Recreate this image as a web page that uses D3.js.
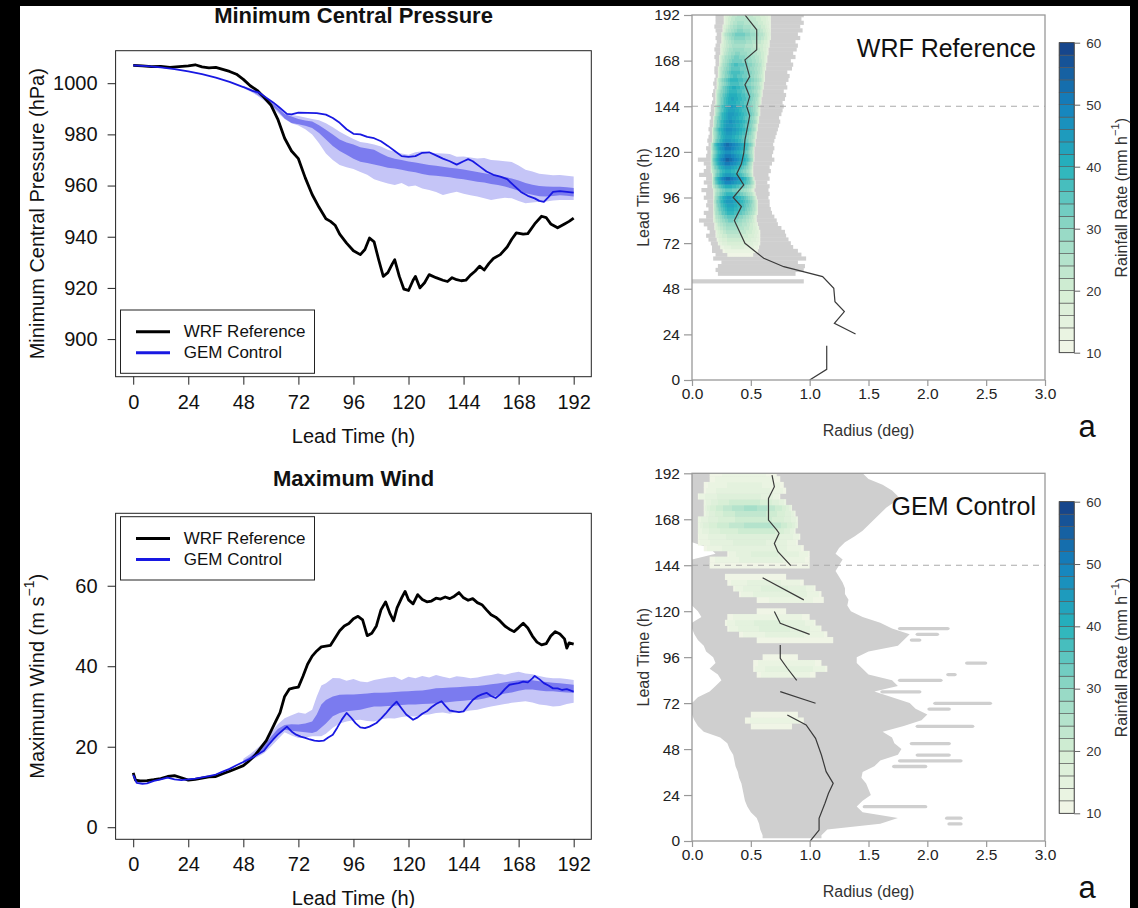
<!DOCTYPE html>
<html>
<head>
<meta charset="utf-8">
<title>WRF vs GEM intensity and rainfall</title>
<style type="text/css">
	body{ margin:0; background:#000; }
	svg{ display:block; font-family:"Liberation Sans", Arial, Helvetica, sans-serif; }
</style>
</head>
<body>
<svg id="fig" width="1138" height="908"></svg>
<script src="https://cdn.jsdelivr.net/npm/d3@7"></script>
<script>
// ---------- left panels: time series [lead h, value] ----------
var leadTicks = [0,24,48,72,96,120,144,168,192];
var pressureTicks = [900,920,940,960,980,1000];
var windTicks = [0,20,40,60];

var wrfPressure = [[0,1007],[4,1006.8],[8,1006.5],[12,1006.6],[16,1006.2],[20,1006.5],[24,1006.8],[27,1007.2],[30,1006.4],[33,1006],[36,1006.2],[39,1005.4],[42,1004.6],[45,1003.5],[48,1001.5],[51,999],[54,997.2],[57,994.5],[60,991.5],[63,986],[66,978.5],[69,973.5],[72,970.5],[75,963],[78,956.5],[81,951.5],[84,947],[86,946],[88,944.5],[90,941],[93,937.5],[96,934.5],[99,933],[101,935],[103,939.5],[105,938],[107,931],[109,924.5],[111,926],[113,929.5],[114,931],[116,924.5],[118,919.5],[120,919],[122,923],[123,924.5],[125,920],[127,922],[129,925.2],[132,924],[135,923],[137,922.5],[139,924],[141,923.2],[143,922.8],[145,923],[147,925],[149,926.5],[151,928.5],[153,927],[155,929.5],[157,931.5],[160,933],[163,936],[165,939],[167,941.5],[170,941],[172,941.2],[175,945],[178,948],[180,947.5],[182,945],[185,943.5],[188,945],[190,946],[192,947.3]];

var gemPressure = [[0,1007],[6,1006.7],[12,1006.2],[18,1005.5],[24,1004.6],[30,1003.5],[36,1002.2],[42,1000.5],[48,998.5],[52,997],[55,996.3],[58,994.3],[61,992.5],[64,990.3],[67,988],[69,987.8],[72,988.5],[76,988.4],[80,988.3],[84,987.7],[87,986.4],[90,984.5],[93,982],[96,980.2],[99,980],[102,979],[105,978.5],[108,977.3],[111,975.5],[114,973.5],[117,971.5],[120,971.2],[123,971.5],[126,972.8],[129,973],[132,971.8],[135,970.5],[138,969.5],[141,968.2],[144,969.5],[146,970.3],[148,969.5],[151,967.5],[154,965.5],[157,964.2],[160,963.5],[163,962.5],[166,960],[169,957.5],[172,956],[175,955],[177,954],[179,953.6],[181,955.5],[183,957.5],[186,957.8],[189,957.5],[192,957.2]];

// [lead, outer low, outer high, inner low, inner high]
var pressureSpread = [[48,998.0,999.0,998.3,998.8],[51,996.8,998.0,997.1,997.7],[54,995.2,996.8,995.6,996.4],[57,993.2,995.2,993.7,994.7],[60,991,993.2,991.6,992.7],[63,988.5,991,989.2,990.4],[66,986,988.6,986.2,988],[69,984.3,987.6,984.4,987],[72,983.5,987.2,984,986],[75,982,986.6,983.4,985.4],[78,980,986,982.5,985],[81,976.5,985.5,980.5,983.6],[84,972.5,984.3,978,981.8],[87,970,982.8,975.5,980],[90,968,981,973.5,978],[93,967.2,979.6,972,976.8],[96,966.5,978.2,970.5,976],[99,965.3,977,969.3,975],[102,964.2,976.6,968.8,974.5],[105,962.5,976,968.2,974],[108,961.6,975.3,967.6,972.5],[111,960.8,974,967,971.3],[114,960.2,973.2,966.7,970.5],[117,961,972.5,966.2,970],[120,959.6,972,965.6,969.4],[123,960,973,965.2,969],[126,958.8,973.4,964.5,968.5],[129,958.3,973,964,968],[132,957.5,972.6,963.8,967.7],[135,956.3,972.5,963.5,967.3],[138,957,972.3,963.2,967],[141,957.6,971.3,962.8,966.7],[144,956.8,971.4,962.5,966.3],[147,956.2,971,962,965.8],[150,955.7,970.6,961.5,965.3],[153,955,970.8,961.2,964.8],[156,954.4,970,960.6,964.3],[159,954.8,969.8,960.2,963.8],[162,955.2,969.5,959.6,963.3],[165,955,969.2,958.8,962.8],[168,954,967.8,958,962],[171,953.1,966.2,957,961],[174,953.4,965.5,956.4,960.3],[177,953.7,964.6,955.8,959.8],[180,953.8,964.3,955.7,959.6],[183,954.2,964,955.9,959.5],[186,954.4,964.1,956.2,959.5],[189,954.4,963.8,956,959.3],[192,954.4,963.5,955.7,959]];

var wrfWind = [[0,13.5],[1,11.7],[3,11.5],[6,11.6],[9,11.8],[12,12.1],[15,12.6],[18,12.8],[21,12.3],[24,11.7],[27,11.9],[30,12.2],[33,12.5],[36,12.6],[39,13.3],[42,13.9],[45,14.6],[48,15.3],[50,16.2],[53,17.8],[56,20],[58,21.5],[60,23.8],[62,26.2],[64,28.5],[66,32.5],[68,34.3],[70,34.6],[72,34.8],[74,37.5],[76,40.5],[78,42.5],[80,43.8],[82,44.8],[84,45],[86,45.2],[88,47],[90,48.8],[92,50],[94,50.6],[96,51.8],[98,52.4],[100,51.5],[102,47.6],[104,48.2],[106,50],[108,54],[110,56],[112,53],[113.5,51.3],[115,54.5],[117,57],[118.5,58.6],[120,56.5],[122,55.5],[124,57.8],[126,56.6],[128,56],[130,56.2],[132,56.9],[134,56.7],[136,57.2],[138,56.8],[140,57.4],[142,58.3],[144,57],[146,56.4],[148,56.8],[150,55.8],[152,55.3],[154,54],[156,52.8],[158,52.2],[160,51.2],[162,50],[164,49.2],[166,48.6],[168,49.6],[170,50.7],[172,49.5],[174,47.5],[176,46],[178,45.3],[180,45.6],[182,47.5],[184,48.6],[186,48],[188,46.8],[189,44.5],[190,45.8],[192,45.5]];

var gemWind = [[0,13],[1.5,11],[4,10.8],[6,10.9],[9,11.5],[12,11.9],[15,12.3],[18,11.9],[21,11.7],[24,11.9],[27,12.1],[30,12.4],[33,12.7],[36,13.1],[39,13.8],[42,14.5],[45,15.4],[48,16.2],[51,17],[54,18],[57,19],[59,20.5],[61,21.8],[63,23],[65,24],[67,25],[69,23.8],[71,23],[73,22.5],[75,22.2],[77,21.8],[79,21.5],[81,21.4],[83,21.5],[85,22.3],[87,23],[89,24.8],[91,26.8],[93,28.4],[95,27.2],[97,25.8],[99,24.8],[101,24.6],[103,25],[106,25.9],[108,27],[110,28.2],[112,29.6],[114.8,31.2],[117,29.5],[119,28],[122,26.7],[124,27.3],[126,28.2],[128,28.8],[130,29.8],[132,30.6],[134.4,31.3],[136,30.2],[138,29],[140,28.8],[142,28.6],[144,28.8],[146,30.2],[148,31.6],[150,32.5],[152,33],[154,33.4],[156,32.6],[158,32.1],[160,33],[162,34.3],[164,35.4],[166,35.6],[168,35.8],[170,36.2],[172,36],[174,37],[175,37.6],[177,36.8],[179,35.8],[181,35.2],[183,34.5],[185,34.5],[187,34.1],[189,34.3],[192,33.7]];

var windSpread = [[48,15.6,17.0,16.0,16.6],[51,16.4,18.2,16.9,17.6],[54,17.4,19.6,18.0,18.9],[57,18.4,21.2,19.2,20.3],[60,20.0,23.4,20.8,22.4],[63,21.8,25.6,22.8,24.4],[66,23.6,27.1,24.2,25.4],[69,22.8,27.8,24.0,25.6],[72,22.2,28.5,23.8,25.5],[75,22.3,28.2,23.6,25.8],[78,22.6,29.2,23.4,26.3],[80,22.6,32.5,23.8,28],[82,22.6,35.2,24.8,30.5],[84,23.2,35.8,25.8,31.6],[87,24.7,37.1,27.6,32.5],[90,25.8,37.0,28.4,32.9],[93,26.3,36.4,28.8,33],[96,26.6,36.8,29,33],[99,26.7,36.2,29.2,33.1],[102,26.4,36.0,29.6,33.2],[105,26.3,36.6,30,33.4],[108,26.8,36.9,30,33.4],[111,27.1,37.2,30.1,33.5],[114,27.0,37.4,30.2,33.6],[117,27.4,36.6,30.4,33.7],[120,27.6,37.4,30.5,33.8],[123,27.5,37.0,30.5,33.9],[126,27.9,37.6,30.6,34],[129,28.0,37.2,30.7,34.2],[132,28.4,37.8,30.8,34.5],[135,28.5,37.4,30.9,34.6],[138,28.2,37.0,31.1,34.7],[141,28.6,37.5,31.3,34.8],[144,28.7,37.3,31.4,34.9],[147,29.0,37.0,31.6,35.0],[150,29.2,37.2,31.7,35.1],[153,29.6,37.6,32.0,35.3],[156,30.0,37.8,32.4,35.5],[159,30.3,38.2,32.8,35.7],[162,30.6,37.9,33.2,36.0],[165,30.9,38.3,33.5,36.3],[168,31.1,38.6,33.9,36.5],[171,31.3,38.2,34.2,36.6],[174,31.0,38.0,34.2,36.5],[177,30.5,37.6,34.0,36.3],[180,30.3,37.2,33.8,36.1],[183,30.0,37.0,33.8,35.9],[186,30.1,37.0,33.6,35.8],[189,30.6,36.8,33.5,35.6],[192,30.9,36.6,33.4,35.4]];

// ---------- right panels: rainfall vs radius ----------
var radiusTicks = [0,0.5,1,1.5,2,2.5,3];
var rainTicks = [10,20,30,40,50,60];
var rainStops = [10,20,30,40,50,60];
var rainColors = ['#f3f6e8','#d5eed4','#92d8c4','#27b3bc','#1582be','#163f86'];

// gray rows: [lead, rIn, rOut, (rIn2, rOut2 ...)]  rain below 10 mm/h
var wrfGray = [[52,0.0,0.95],[56,0.22,0.88],[58,0.20,0.95],[60,0.22,0.96],[62,0.25,0.90],[64,0.18,0.97],[66,0.20,0.93],[68,0.17,0.90],[70,0.17,0.86],[72,0.16,0.84],[74,0.14,0.82],[76,0.12,0.80],[78,0.15,0.79],[80,0.13,0.76],[82,0.10,0.73],[84,0.06,0.72],[86,0.12,0.70],[88,0.10,0.68],[90,0.14,0.67],[92,0.12,0.66],[94,0.13,0.66],[96,0.10,0.65],[98,0.12,0.66],[100,0.08,0.65],[102,0.13,0.66],[104,0.10,0.64],[106,0.12,0.66],[108,0.06,0.65],[110,0.10,0.67],[112,0.12,0.66],[114,0.10,0.68],[116,0.05,0.70],[118,0.12,0.68],[120,0.13,0.69],[122,0.12,0.70],[124,0.14,0.69],[126,0.13,0.70],[128,0.14,0.71],[130,0.15,0.72],[132,0.14,0.73],[134,0.15,0.74],[136,0.15,0.75],[138,0.16,0.74],[140,0.15,0.76],[142,0.16,0.77],[144,0.16,0.78],[146,0.17,0.77],[148,0.18,0.79],[150,0.17,0.80],[152,0.18,0.78],[154,0.19,0.81],[156,0.18,0.80],[158,0.19,0.82],[160,0.20,0.83],[162,0.19,0.81],[164,0.19,0.85],[166,0.20,0.86],[168,0.20,0.84],[170,0.19,0.88],[172,0.20,0.86],[174,0.19,0.89],[176,0.20,0.90],[178,0.21,0.88],[180,0.20,0.92],[182,0.21,0.90],[184,0.20,0.94],[186,0.19,0.92],[188,0.20,0.95],[190,0.20,0.93],[192,0.20,0.95]];

// core rows: [lead, rIn, rOut, peak rain, radius of peak]
var wrfCore = [[66,0.30,0.52,12,0.40],[68,0.26,0.56,14,0.40],[70,0.24,0.57,17,0.38],[72,0.22,0.58,20,0.36],[74,0.21,0.58,22,0.35],[76,0.20,0.58,24,0.34],[78,0.20,0.58,26,0.33],[80,0.19,0.57,28,0.33],[82,0.19,0.56,30,0.32],[84,0.18,0.55,33,0.32],[86,0.18,0.55,36,0.32],[88,0.18,0.56,40,0.32],[90,0.18,0.56,42,0.32],[92,0.18,0.56,44,0.32],[94,0.18,0.56,46,0.31],[96,0.18,0.55,45,0.31],[98,0.18,0.54,40,0.31],[100,0.18,0.53,36,0.30],[102,0.17,0.54,42,0.30],[104,0.17,0.54,50,0.30],[106,0.17,0.53,54,0.30],[108,0.17,0.52,46,0.30],[110,0.16,0.52,42,0.30],[112,0.16,0.52,46,0.30],[114,0.16,0.52,52,0.30],[116,0.16,0.53,55,0.30],[118,0.16,0.53,52,0.30],[120,0.16,0.53,48,0.30],[122,0.16,0.53,52,0.30],[124,0.16,0.54,53,0.30],[126,0.17,0.54,46,0.30],[128,0.17,0.55,44,0.30],[130,0.17,0.55,46,0.31],[132,0.17,0.56,48,0.31],[134,0.18,0.56,46,0.31],[136,0.18,0.57,47,0.32],[138,0.18,0.57,45,0.32],[140,0.19,0.58,46,0.32],[142,0.19,0.58,44,0.33],[144,0.19,0.58,45,0.33],[146,0.20,0.59,42,0.33],[148,0.20,0.59,43,0.34],[150,0.20,0.60,42,0.34],[152,0.20,0.60,40,0.34],[154,0.21,0.61,41,0.35],[156,0.21,0.61,38,0.35],[158,0.21,0.62,40,0.35],[160,0.22,0.62,37,0.36],[162,0.22,0.62,38,0.36],[164,0.22,0.63,36,0.36],[166,0.23,0.63,37,0.37],[168,0.23,0.64,34,0.37],[170,0.23,0.64,33,0.37],[172,0.24,0.65,31,0.38],[174,0.24,0.65,30,0.38],[176,0.24,0.66,28,0.38],[178,0.25,0.66,30,0.39],[180,0.25,0.67,32,0.39],[182,0.25,0.67,34,0.39],[184,0.26,0.67,31,0.40],[186,0.26,0.67,29,0.40],[188,0.27,0.67,27,0.40],[190,0.27,0.67,26,0.40],[192,0.27,0.67,25,0.40]];

// radius of max wind, pieces of [radius, lead]
var wrfRmw = [
	[[1.0,0],[1.145,5.6],[1.145,18]],
	[[1.39,24.2],[1.21,29.8],[1.295,36],[1.215,41.2],[1.205,48.2],[1.11,54.4],[0.78,59.6],[0.61,64],[0.45,71.9],[0.36,83.9],[0.42,91.2],[0.35,96],[0.44,102.6],[0.38,108.4],[0.42,113.7],[0.44,119.3],[0.45,126.3],[0.47,132.5],[0.49,139],[0.465,143.9],[0.49,149.1],[0.45,155.3],[0.49,159.6],[0.45,168.4],[0.55,173.7],[0.55,184.2],[0.45,192]]
];

var gemGray = [[3,0.60,1.10],[6,0.58,1.15],[9,0.57,1.60,2.17,2.30],[12,0.55,1.75,2.15,2.30],[15,0.50,1.45],[18,0.47,1.40,1.45,2.00],[21,0.45,1.45],[24,0.44,1.52],[27,0.43,1.50],[30,0.42,1.48],[33,0.40,1.44],[36,0.39,1.45],[39,0.37,1.55,1.70,2.00],[42,0.36,1.60,1.75,2.30],[45,0.35,1.75,1.90,2.20],[48,0.32,1.78],[51,0.30,1.72,1.85,2.20],[54,0.24,1.70],[57,0.10,1.62],[60,0.05,1.80,1.90,2.40],[63,0.02,1.95],[66,0.0,2.00],[69,0.0,1.90,2.00,2.20],[72,0.0,1.85,2.05,2.55],[75,0.05,1.70],[78,0.15,1.55,1.60,1.95],[81,0.20,1.75],[84,0.25,1.70,1.75,2.13],[87,0.22,1.50,2.16,2.25],[90,0.15,1.45],[93,0.20,1.40,2.32,2.51],[96,0.18,1.40],[99,0.12,1.50],[102,0.10,1.75],[105,0.05,1.80,1.85,1.95],[108,0.02,1.85,1.90,2.10],[111,0.0,1.70,1.75,2.19],[114,0.0,1.60],[117,0.08,1.45],[120,0.05,1.35],[123,0.0,1.32],[126,0.0,1.33],[129,0.0,1.30],[132,0.0,1.30],[135,0.0,1.28],[138,0.0,1.25],[141,0.0,1.22],[144,0.0,1.25],[147,0.0,1.28],[150,0.20,1.22],[153,0.15,1.25],[156,0.0,1.30],[159,0.0,1.38],[162,0.0,1.45],[165,0.0,1.50],[168,0.0,1.55],[171,0.0,1.60],[174,0.0,1.65],[177,0.0,1.72],[180,0.0,1.75],[183,0.0,1.70],[186,0.0,1.62],[189,0.0,1.50],[192,0.0,1.45]];

var gemCore = [[60,0.50,0.85,12,0.65],[63,0.45,0.95,14,0.70],[66,0.50,0.90,12,0.70],[87,0.55,1.05,14,0.75],[90,0.52,1.15,16,0.80],[93,0.52,1.10,14,0.75],[96,0.60,0.90,11,0.75],[105,0.55,1.20,12,0.85],[108,0.40,1.15,15,0.80],[111,0.30,1.10,17,0.70],[114,0.28,1.05,17,0.65],[117,0.30,1.00,14,0.60],[120,0.55,0.80,11,0.70],[126,0.55,1.12,13,0.85],[129,0.40,1.10,16,0.75],[132,0.35,1.05,17,0.70],[135,0.30,0.95,15,0.60],[138,0.28,0.80,12,0.50],[144,0.15,1.00,12,0.60],[147,0.15,1.00,15,0.60],[150,0.30,1.00,17,0.60],[153,0.10,0.95,16,0.55],[156,0.05,0.90,17,0.50],[159,0.05,0.92,18,0.55],[162,0.05,0.88,22,0.60],[165,0.05,0.90,26,0.60],[168,0.05,0.90,22,0.55],[171,0.10,0.88,24,0.50],[174,0.10,0.85,27,0.50],[177,0.10,0.80,22,0.45],[180,0.05,0.75,18,0.40],[183,0.10,0.80,16,0.40],[186,0.10,0.78,15,0.45],[189,0.15,0.75,14,0.45],[192,0.15,0.72,13,0.45]];

var gemRmw = [
	[[1.005,0],[1.08,5.7],[1.08,11.8],[1.13,19.7],[1.16,24.9],[1.2,30.1],[1.14,36.2],[1.1,44.9],[1.05,53.6],[0.97,60.6],[0.81,65.8]],
	[[0.75,78],[1.05,71.9]],
	[[0.89,83.9],[0.81,90.2],[0.75,95.4],[0.75,102.4]],
	[[1.0,107.9],[0.75,113.7],[0.70,119.8]],
	[[0.95,125.9],[0.60,137.5]],
	[[0.84,143.8],[0.73,151.1],[0.70,155.4],[0.74,160.7],[0.72,162.4],[0.65,167.6],[0.65,178.9],[0.70,185],[0.68,191.1]]
];

// ---------- drawing ----------
var svg = d3.select('#fig');
svg.append('rect').attr('x',20).attr('y',6).attr('width',1110).attr('height',902).attr('fill','#fff');
var defs = svg.append('defs');

function supLabel(sel, main, sup, tail, size){
	sel.append('tspan').text(main);
	sel.append('tspan').attr('dy', -size*0.4).attr('font-size', size*0.7).text(sup);
	sel.append('tspan').attr('dy', size*0.4).text(tail);
}

function linePanel(o){
	var x = d3.scaleLinear().domain([-7.68, 199.68]).range([115.6, 591.3]);
	var y = d3.scaleLinear().domain(o.yDomain).range([o.bottom, o.top]);
	var g = svg.append('g');

	g.append('path').datum(o.spread)
		.attr('d', d3.area().x(function(d){ return x(d[0]); }).y0(function(d){ return y(d[1]); }).y1(function(d){ return y(d[2]); }))
		.attr('fill','#c5c5f7');
	g.append('path').datum(o.spread)
		.attr('d', d3.area().x(function(d){ return x(d[0]); }).y0(function(d){ return y(d[3]); }).y1(function(d){ return y(d[4]); }))
		.attr('fill','#7b7bef');

	var line = d3.line().x(function(d){ return x(d[0]); }).y(function(d){ return y(d[1]); });
	g.append('path').datum(o.wrf).attr('d', line)
		.attr('fill','none').attr('stroke','#000').attr('stroke-width',2.8).attr('stroke-linejoin','round');
	g.append('path').datum(o.gem).attr('d', line)
		.attr('fill','none').attr('stroke','#1818e2').attr('stroke-width',1.8).attr('stroke-linejoin','round');

	g.append('rect').attr('x',115.6).attr('y',o.top).attr('width',591.3-115.6).attr('height',o.bottom-o.top)
		.attr('fill','none').attr('stroke','#222').attr('stroke-width',1);

	var ax = g.append('g').attr('transform','translate(0,'+o.bottom+')')
		.call(d3.axisBottom(x).tickValues(leadTicks).tickFormat(d3.format('d')).tickSize(8).tickPadding(10));
	var ay = g.append('g').attr('transform','translate(115.6,0)')
		.call(d3.axisLeft(y).tickValues(o.ticks).tickFormat(d3.format('d')).tickSize(8).tickPadding(10));
	[ax, ay].forEach(function(a){
		a.select('.domain').remove();
		a.selectAll('line').attr('stroke','#222');
		a.selectAll('text').attr('font-size',20).attr('fill','#111').attr('font-family',null);
	});

	g.append('text').attr('x',353.5).attr('y',o.top-35).attr('text-anchor','middle')
		.attr('dominant-baseline','central').attr('font-size',22).attr('font-weight','bold').attr('fill','#111').text(o.title);
	g.append('text').attr('x',353.5).attr('y',o.bottom+59).attr('text-anchor','middle')
		.attr('dominant-baseline','central').attr('font-size',20).attr('fill','#111').text('Lead Time (h)');
	var yl = g.append('text').attr('transform','translate(37,'+((o.top+o.bottom)/2)+') rotate(-90)')
		.attr('text-anchor','middle').attr('dominant-baseline','central').attr('font-size',20).attr('fill','#111');
	if(o.ylabelSup) supLabel(yl, o.ylabel, o.ylabelSup, ')', 20);
	else yl.text(o.ylabel);

	// legend
	var lg = g.append('g');
	lg.append('rect').attr('x',120.5).attr('y',o.legendY).attr('width',194).attr('height',63.3)
		.attr('fill','#fff').attr('stroke','#222').attr('stroke-width',1);
	[['WRF Reference','#000'],['GEM Control','#1818e2']].forEach(function(s, i){
		var yy = o.legendY + 21.7 + i*21;
		lg.append('line').attr('x1',136).attr('x2',170).attr('y1',yy).attr('y2',yy)
			.attr('stroke',s[1]).attr('stroke-width',3);
		lg.append('text').attr('x',183.7).attr('y',yy).attr('dominant-baseline','central')
			.attr('font-size',17).attr('fill','#111').text(s[0]);
	});
}

var rainColor = d3.scaleLinear().domain(rainStops).range(rainColors).interpolate(d3.interpolateRgb);
var rainLevels = d3.range(10, 60, 2);
function binColor(L){ return rainColor(L + 1); }

function rainPanel(o){
	var x = d3.scaleLinear().domain([0,3]).range([692,1045]);
	var y = d3.scaleLinear().domain([0,192]).range([o.bottom, o.top]);
	var g = svg.append('g');
	defs.append('clipPath').attr('id', o.id+'clip').append('rect')
		.attr('x',692).attr('y',o.top).attr('width',353).attr('height',o.bottom-o.top);
	var plot = g.append('g').attr('clip-path','url(#'+o.id+'clip)');
	var h = o.step / 2;

	// light rain: main body and streaks
	var body = [], streaks = [];
	o.gray.forEach(function(r){
		body.push([r[0], r[1], r[2]]);
		for(var i = 3; i < r.length; i += 2) streaks.push([r[0], r[i], r[i+1]]);
	});
	if(o.smooth){
		// consecutive rows joined into one outline
		var runs = [], cur = [];
		body.forEach(function(r, i){
			if(i > 0 && r[0] - body[i-1][0] > o.step) { runs.push(cur); cur = []; }
			cur.push(r);
		});
		runs.push(cur);
		var area = d3.area().curve(d3.curveLinear)
			.y(function(d){ return y(d[0]); })
			.x0(function(d){ return x(d[1]); }).x1(function(d){ return x(d[2]); });
		runs.forEach(function(run){
			var first = run[0], last = run[run.length-1];
			var pts = [[first[0]-h, first[1], first[2]]].concat(run, [[last[0]+h, last[1], last[2]]]);
			plot.append('path').datum(pts).attr('d', area).attr('fill','#cfcfcf');
		});
	} else {
		body.forEach(function(r){ r.push(1); });
		streaks = streaks.concat(body);
	}
	// streaks are thinner than a full row
	plot.selectAll('.gray').data(streaks).enter().append('rect')
		.attr('class','gray')
		.attr('x', function(d){ return x(d[1]); })
		.attr('width', function(d){ return x(d[2]) - x(d[1]); })
		.attr('y', function(d){ var k = d[3] ? 1 : 0.5; return y(d[0] + h*k); })
		.attr('height', function(d){ var k = d[3] ? 1 : 0.5; return y(d[0] - h*k) - y(d[0] + h*k) + 0.4; })
		.attr('rx', function(d){ return d[3] ? 0 : 2; })
		.attr('fill','#cfcfcf');

	// heavier rain rows, filled by 2 mm/h levels
	o.core.forEach(function(c, i){
		var t = c[0], r0 = c[1], r1 = c[2], pk = c[3], rp = c[4];
		var id = o.id + 'g' + i;
		var grad = defs.append('linearGradient').attr('id', id).attr('gradientUnits','userSpaceOnUse')
			.attr('x1', x(r0)).attr('x2', x(r1)).attr('y1',0).attr('y2',0);
		var f = function(L){ return Math.pow((L - 10) / (pk - 10), 2.6); };
		var up = function(L){ return r0 + (rp - r0) * f(L); };
		var dn = function(L){ return r1 - (r1 - rp) * f(L); };
		var lv = rainLevels.filter(function(L){ return L < pk; });
		var stops = [];
		lv.forEach(function(L){
			stops.push([up(L), binColor(L)], [up(Math.min(L+2, pk)), binColor(L)]);
		});
		lv.slice().reverse().forEach(function(L){
			stops.push([dn(Math.min(L+2, pk)), binColor(L)], [dn(L), binColor(L)]);
		});
		stops.forEach(function(s){
			grad.append('stop').attr('offset', (s[0] - r0) / (r1 - r0)).attr('stop-color', s[1]);
		});
		plot.append('rect')
			.attr('x', x(r0)).attr('width', x(r1) - x(r0))
			.attr('y', y(t + h)).attr('height', y(t - h) - y(t + h) + 0.4)
			.attr('fill', 'url(#'+id+')');
	});

	var line = d3.line().x(function(d){ return x(d[0]); }).y(function(d){ return y(d[1]); });
	plot.selectAll('.rmw').data(o.rmw).enter().append('path')
		.attr('class','rmw').attr('d', line)
		.attr('fill','none').attr('stroke','#3a3a3a').attr('stroke-width',1.2);

	g.append('line').attr('x1',692).attr('x2',1045).attr('y1',y(144)).attr('y2',y(144))
		.attr('stroke','#aaa').attr('stroke-width',1.2).attr('stroke-dasharray','6,5');

	g.append('rect').attr('x',692).attr('y',o.top).attr('width',353).attr('height',o.bottom-o.top)
		.attr('fill','none').attr('stroke','#999').attr('stroke-width',1.3);

	var ax = g.append('g').attr('transform','translate(0,'+o.bottom+')')
		.call(d3.axisBottom(x).tickValues(radiusTicks).tickFormat(d3.format('.1f')).tickSize(6).tickPadding(2));
	var ay = g.append('g').attr('transform','translate(692,0)')
		.call(d3.axisLeft(y).tickValues(leadTicks).tickSize(8).tickPadding(4));
	[ax, ay].forEach(function(a){
		a.select('.domain').remove();
		a.selectAll('line').attr('stroke','#999').attr('stroke-width',1.2);
		a.selectAll('text').attr('font-size',15.5).attr('fill','#222').attr('font-family',null);
	});

	g.append('text').attr('x',868.5).attr('y',o.bottom+50).attr('text-anchor','middle')
		.attr('dominant-baseline','central').attr('font-size',16).attr('fill','#333').text('Radius (deg)');
	g.append('text').attr('transform','translate(643,'+((o.top+o.bottom)/2)+') rotate(-90)')
		.attr('text-anchor','middle').attr('dominant-baseline','central').attr('font-size',16).attr('fill','#333').text('Lead Time (h)');
	g.append('text').attr('x',1036).attr('y',o.top+33).attr('text-anchor','end')
		.attr('dominant-baseline','central').attr('font-size',25).attr('fill','#111').text(o.name);
	g.append('text').attr('x',1087).attr('y',o.bottom+46).attr('text-anchor','middle')
		.attr('dominant-baseline','central').attr('font-size',31).attr('fill','#111').text('a');

	// colour bar
	var cy = d3.scaleLinear().domain([10,60]).range([o.cbBottom, o.cbTop]);
	var cb = g.append('g');
	cb.selectAll('.bin').data(rainLevels).enter().append('rect')
		.attr('class','bin')
		.attr('x',1059.2).attr('width',15)
		.attr('y', function(d){ return cy(d+2); })
		.attr('height', function(d){ return cy(d) - cy(d+2); })
		.attr('fill', function(d){ return binColor(d); })
		.attr('stroke','#555').attr('stroke-width',0.6);
	cb.append('rect').attr('x',1059.2).attr('width',15).attr('y',o.cbTop).attr('height',o.cbBottom-o.cbTop)
		.attr('fill','none').attr('stroke','#444').attr('stroke-width',0.8);
	var ac = cb.append('g').attr('transform','translate(1074.2,0)')
		.call(d3.axisRight(cy).tickValues(rainTicks).tickSize(6).tickPadding(6));
	ac.select('.domain').remove();
	ac.selectAll('line').attr('stroke','#666');
	ac.selectAll('text').attr('font-size',13.5).attr('fill','#333').attr('font-family',null);
	var cl = cb.append('text').attr('transform','translate(1121,'+((o.cbTop+o.cbBottom)/2)+') rotate(-90)')
		.attr('text-anchor','middle').attr('dominant-baseline','central').attr('font-size',16).attr('fill','#333');
	supLabel(cl, 'Rainfall Rate (mm h', '\u22121', ')', 16);
}

linePanel({ title:'Minimum Central Pressure', ylabel:'Minimum Central Pressure (hPa)',
	yDomain:[885.3, 1012.7], top:50.7, bottom:376.7, ticks:pressureTicks,
	wrf:wrfPressure, gem:gemPressure, spread:pressureSpread, legendY:310 });
linePanel({ title:'Maximum Wind', ylabel:'Maximum Wind (m s', ylabelSup:'\u22121',
	yDomain:[-3, 78], top:513.3, bottom:839.3, ticks:windTicks,
	wrf:wrfWind, gem:gemWind, spread:windSpread, legendY:516.7 });

rainPanel({ id:'wrf', name:'WRF Reference', top:15, bottom:380, step:2, smooth:false,
	gray:wrfGray, core:wrfCore, rmw:wrfRmw, cbTop:42.7, cbBottom:352.7 });
rainPanel({ id:'gem', name:'GEM Control', top:473.3, bottom:841, step:3, smooth:true,
	gray:gemGray, core:gemCore, rmw:gemRmw, cbTop:501.7, cbBottom:813.3 });
</script>
</body>
</html>
